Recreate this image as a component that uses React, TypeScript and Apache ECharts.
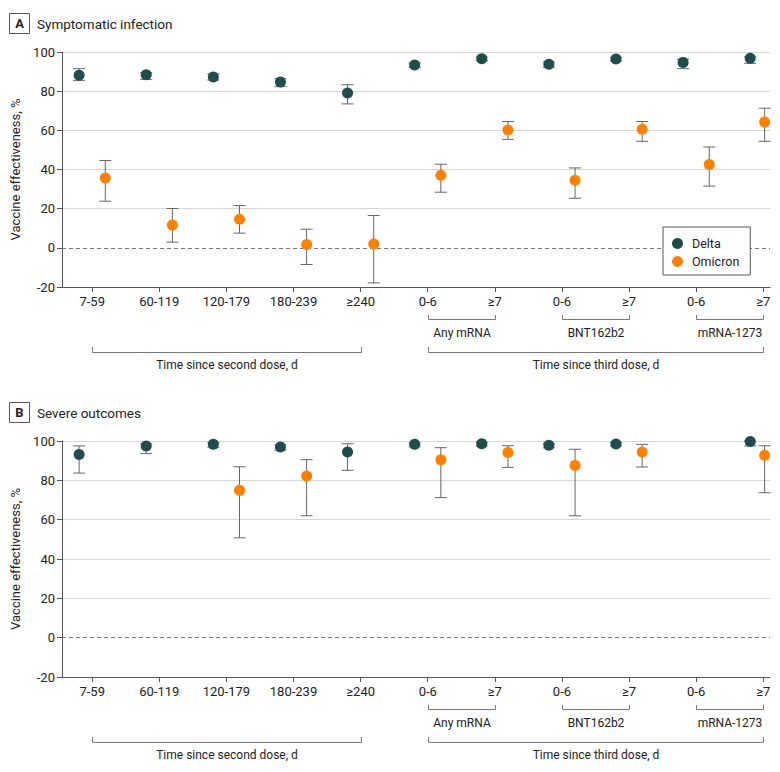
import React, { useEffect, useRef } from "react";
import * as echarts from "echarts";

const xLabels = ["7-59", "60-119", "120-179", "180-239", "≥240", "0-6", "≥7", "0-6", "≥7", "0-6", "≥7"];
const tickPositions = [0, 1, 2, 3, 4, 5, 6, 7, 8, 9, 10];

// Panel A: symptomatic infection
const aDelta = [88.1, 88.4, 87.2, 84.7, 79.1, 93.4, 96.6, 93.7, 96.4, 94.7, 96.8];
const aDeltaLo = [85.5, 86.0, 85.7, 82.3, 73.5, 92.2, 95.6, 92.2, 95.4, 91.5, 94.2];
const aDeltaHi = [91.5, 89.5, 88.8, 86.4, 83.3, 94.4, 97.4, 94.9, 97.2, 96.3, 97.5];
const aOmicron = [35.7, 11.6, 14.6, 1.7, 2.0, 37.1, 60.2, 34.5, 60.5, 42.5, 64.3];
const aOmicronLo = [23.8, 2.9, 7.5, -8.5, -17.9, 28.4, 55.4, 25.3, 54.4, 31.5, 54.4];
const aOmicronHi = [44.6, 20.1, 21.6, 9.5, 16.5, 42.7, 64.5, 40.8, 64.5, 51.5, 71.3];

// Panel B: severe outcomes
const bDelta = [93.1, 97.5, 98.3, 96.9, 94.4, 98.3, 98.6, 97.8, 98.5, null, 99.8];
const bDeltaLo = [83.7, 93.6, 96.8, 95.3, 85.1, 97.0, 97.4, 96.5, 97.4, null, 97.5];
const bDeltaHi = [97.5, 98.6, 99.2, 98.0, 98.6, 99.0, 99.3, 98.8, 99.2, null, 100];
const bOmicron = [null, null, 74.9, 82.2, null, 90.5, 94.2, 87.6, 94.4, null, 92.7];
const bOmicronLo = [null, null, 50.8, 62.0, null, 71.2, 86.6, 62.0, 86.8, null, 73.7];
const bOmicronHi = [null, null, 86.9, 90.5, null, 96.6, 97.6, 95.8, 98.3, null, 97.6];

const panelTitles = [
  { letter: "A", text: "Symptomatic infection" },
  { letter: "B", text: "Severe outcomes" },
];
const doseGroups = [
  { label: "Any mRNA", from: 5, to: 6 },
  { label: "BNT162b2", from: 7, to: 8 },
  { label: "mRNA-1273", from: 9, to: 10 },
];
const periodGroups = [
  { label: "Time since second dose, d", from: 0, to: 4 },
  { label: "Time since third dose, d", from: 5, to: 10 },
];

const DELTA_COLOR = "#1f4d4b";
const OMICRON_COLOR = "#fd8204";
const AXIS_COLOR = "#555";
const TEXT_COLOR = "#222";
const FONT = "Roboto, 'Noto Sans', sans-serif";
const OFFSET = 0.195;
const X_MIN = -0.45;
const X_MAX = 10.1;
const EDGE = 0.08;

type V = number | null;

const xPos = (i: number, off: number) => Math.min(i + off, X_MAX - EDGE);

function points(vals: V[], off: number) {
  const out: number[][] = [];
  vals.forEach((v, i) => {
    if (v != null) out.push([xPos(i, off), v]);
  });
  return out;
}
function bars(vals: V[], lo: V[], hi: V[], off: number) {
  const out: number[][] = [];
  vals.forEach((v, i) => {
    if (v != null && lo[i] != null && hi[i] != null) out.push([xPos(i, off), lo[i] as number, hi[i] as number]);
  });
  return out;
}

const errorRender = (params: any, api: any) => {
  const x = api.value(0);
  const pLo = api.coord([x, api.value(1)]);
  const pHi = api.coord([x, api.value(2)]);
  const w = 6;
  const style = { stroke: "#666", lineWidth: 1 };
  return {
    type: "group",
    children: [
      { type: "line", shape: { x1: pLo[0], y1: pLo[1], x2: pHi[0], y2: pHi[1] }, style },
      { type: "line", shape: { x1: pLo[0] - w, y1: pLo[1], x2: pLo[0] + w, y2: pLo[1] }, style },
      { type: "line", shape: { x1: pHi[0] - w, y1: pHi[1], x2: pHi[0] + w, y2: pHi[1] }, style },
    ],
  };
};

function makeAxes(gridIndex: number) {
  const xAxis = {
    type: "value",
    gridIndex,
    min: X_MIN,
    max: X_MAX,
    axisLine: { show: true, onZero: false, lineStyle: { color: AXIS_COLOR, width: 1 } },
    axisTick: { show: true, length: 5, customValues: tickPositions, lineStyle: { color: AXIS_COLOR } },
    axisLabel: {
      customValues: tickPositions,
      formatter: (v: number) => xLabels[Math.round(v)],
      margin: 8,
      fontSize: 13,
      color: TEXT_COLOR,
      fontFamily: FONT,
    },
    splitLine: { show: false },
  };
  const yAxis = {
    type: "value",
    gridIndex,
    min: -20,
    max: 100,
    interval: 20,
    name: "Vaccine effectiveness, %",
    nameLocation: "middle",
    nameGap: 38,
    nameTextStyle: { fontSize: 13, color: TEXT_COLOR, fontFamily: FONT },
    axisLine: { show: true, onZero: false, lineStyle: { color: AXIS_COLOR, width: 1 } },
    axisTick: { show: true, length: 5, lineStyle: { color: AXIS_COLOR } },
    axisLabel: { margin: 7, fontSize: 13, color: TEXT_COLOR, fontFamily: FONT },
    splitLine: {
      show: true,
      lineStyle: {
        color: ["transparent", "transparent", "#d6d6d6", "#d6d6d6", "#d6d6d6", "#d6d6d6", "#d6d6d6"],
        width: 1,
      },
    },
  };
  return { xAxis, yAxis };
}

function makeSeries(
  gi: number,
  d: V[], dLo: V[], dHi: V[],
  o: V[], oLo: V[], oHi: V[]
) {
  return [
    {
      type: "custom",
      name: "Delta CI",
      xAxisIndex: gi,
      yAxisIndex: gi,
      renderItem: errorRender,
      encode: { x: 0, y: [1, 2] },
      data: bars(d, dLo, dHi, -OFFSET),
      z: 2,
      silent: true,
    },
    {
      type: "custom",
      name: "Omicron CI",
      xAxisIndex: gi,
      yAxisIndex: gi,
      renderItem: errorRender,
      encode: { x: 0, y: [1, 2] },
      data: bars(o, oLo, oHi, OFFSET),
      z: 2,
      silent: true,
    },
    {
      type: "scatter",
      name: "Delta",
      xAxisIndex: gi,
      yAxisIndex: gi,
      symbol: "circle",
      symbolSize: 11,
      itemStyle: { color: DELTA_COLOR, opacity: 1 },
      data: points(d, -OFFSET),
      z: 3,
      markLine: {
        silent: true,
        symbol: "none",
        label: { show: false },
        lineStyle: { type: [4, 3], color: "#777", width: 1 },
        data: [{ yAxis: 0 }],
        z: 1,
      },
    },
    {
      type: "scatter",
      name: "Omicron",
      xAxisIndex: gi,
      yAxisIndex: gi,
      symbol: "circle",
      symbolSize: 11,
      itemStyle: { color: OMICRON_COLOR, opacity: 1 },
      data: points(o, OFFSET),
      z: 3,
    },
  ];
}

export default function App() {
  const ref = useRef<HTMLDivElement>(null);
  useEffect(() => {
    if (!ref.current) return;
    const chart = echarts.init(ref.current, undefined, { renderer: "svg" });
    const a0 = makeAxes(0);
    const a1 = makeAxes(1);
    chart.setOption({
      animation: false,
      backgroundColor: "#fff",
      textStyle: { fontFamily: FONT },
      grid: [
        { left: 62, right: 10, top: 52, height: 235 },
        { left: 62, right: 10, top: 441, height: 236 },
      ],
      xAxis: [a0.xAxis, a1.xAxis],
      yAxis: [a0.yAxis, a1.yAxis],
      legend: {
        data: ["Delta", "Omicron"],
        selectedMode: false,
        orient: "vertical",
        left: 663,
        top: 227,
        icon: "circle",
        itemWidth: 11,
        itemHeight: 11,
        itemGap: 5,
        padding: [10, 11, 7, 9],
        borderColor: "#555",
        borderWidth: 1,
        borderRadius: 0,
        backgroundColor: "#fff",
        textStyle: { fontSize: 12.5, color: TEXT_COLOR, fontFamily: FONT, padding: [0, 0, 0, 4] },
        z: 10,
      },
      series: [
        ...makeSeries(0, aDelta, aDeltaLo, aDeltaHi, aOmicron, aOmicronLo, aOmicronHi),
        ...makeSeries(1, bDelta, bDeltaLo, bDeltaHi, bOmicron, bOmicronLo, bOmicronHi),
      ],
    });

    // Annotations computed from the axes
    const graphics: any[] = [];
    const lineStyle = { stroke: "#777", lineWidth: 1, fill: "none" };
    [0, 1].forEach((gi) => {
      const top = chart.convertToPixel({ gridIndex: gi } as any, [0, 100]) as number[];
      const base = chart.convertToPixel({ gridIndex: gi } as any, [0, -20]) as number[];
      const boxTop = top[1] - 39;
      graphics.push({
        type: "rect",
        shape: { x: 9.5, y: boxTop + 0.5, width: 20, height: 20 },
        style: { fill: "#fff", stroke: "#555", lineWidth: 1 },
      });
      graphics.push({
        type: "text",
        x: 19.5,
        y: boxTop + 10.5,
        style: {
          text: panelTitles[gi].letter,
          font: `bold 13px ${FONT}`,
          fill: TEXT_COLOR,
          align: "center",
          verticalAlign: "middle",
        },
      });
      graphics.push({
        type: "text",
        x: 37,
        y: boxTop + 11,
        style: {
          text: panelTitles[gi].text,
          font: `13.5px ${FONT}`,
          fill: TEXT_COLOR,
          align: "left",
          verticalAlign: "middle",
        },
      });
      const by = base[1];
      const px = (i: number) => (chart.convertToPixel({ gridIndex: gi } as any, [i, -20]) as number[])[0];
      doseGroups.forEach((g) => {
        const x1 = Math.round(px(g.from)) + 0.5;
        const x2 = Math.round(px(g.to)) + 0.5;
        graphics.push({
          type: "polyline",
          shape: { points: [[x1, by + 28], [x1, by + 32.5], [x2, by + 32.5], [x2, by + 28]] },
          style: lineStyle,
        });
        graphics.push({
          type: "text",
          x: (x1 + x2) / 2,
          y: by + 46,
          style: { text: g.label, font: `12px ${FONT}`, fill: TEXT_COLOR, align: "center", verticalAlign: "middle" },
        });
      });
      periodGroups.forEach((g) => {
        const x1 = Math.round(px(g.from)) + 0.5;
        const x2 = Math.round(px(g.to)) + 0.5;
        graphics.push({
          type: "polyline",
          shape: { points: [[x1, by + 60], [x1, by + 65.5], [x2, by + 65.5], [x2, by + 60]] },
          style: lineStyle,
        });
        graphics.push({
          type: "text",
          x: (x1 + x2) / 2,
          y: by + 78,
          style: { text: g.label, font: `12px ${FONT}`, fill: TEXT_COLOR, align: "center", verticalAlign: "middle" },
        });
      });
    });
    chart.setOption({ graphic: graphics });

    return () => chart.dispose();
  }, []);
  return (
    <div
      ref={ref}
      style={{ position: "absolute", left: 0, top: 0, width: 780, height: 772, background: "#fff" }}
    />
  );
}
